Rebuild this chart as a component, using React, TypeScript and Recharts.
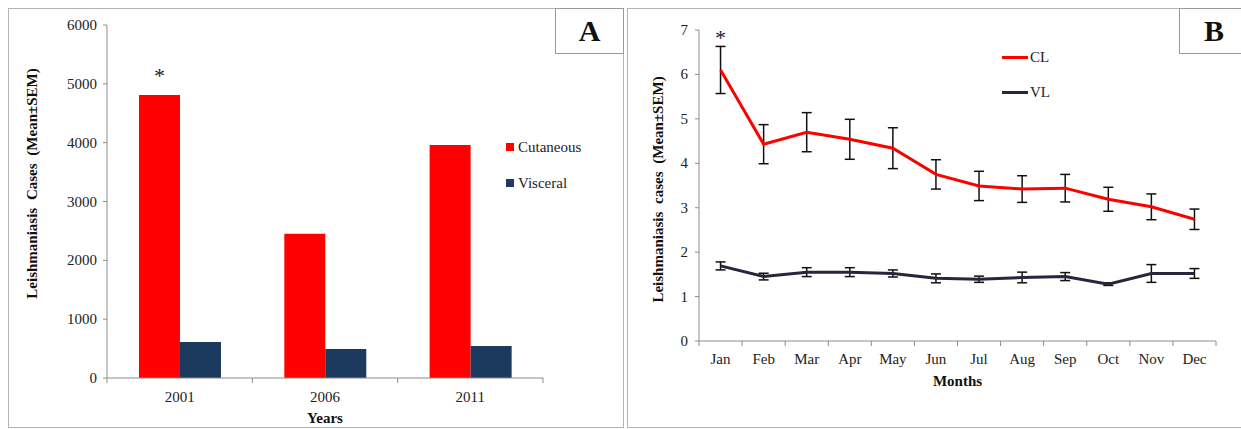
import React from "react";
import {
  BarChart,
  Bar,
  LineChart,
  Line,
  XAxis,
  YAxis,
  ErrorBar,
  LabelList,
  Label,
  Legend,
} from "recharts";

const years = ["2001", "2006", "2011"];
const cutaneous = [4810, 2450, 3960];
const visceral = [612, 493, 544];
const yearMarks = ["*", "", ""];
const countTicks = [0, 1000, 2000, 3000, 4000, 5000, 6000];

const months = ["Jan", "Feb", "Mar", "Apr", "May", "Jun", "Jul", "Aug", "Sep", "Oct", "Nov", "Dec"];
const clMean = [6.1, 4.43, 4.7, 4.54, 4.34, 3.75, 3.49, 3.42, 3.44, 3.19, 3.02, 2.74];
const clSem = [0.53, 0.44, 0.44, 0.45, 0.46, 0.33, 0.33, 0.3, 0.31, 0.27, 0.29, 0.23];
const vlMean = [1.69, 1.45, 1.55, 1.55, 1.52, 1.41, 1.39, 1.43, 1.45, 1.28, 1.52, 1.52];
const vlSem = [0.09, 0.075, 0.1, 0.1, 0.08, 0.1, 0.07, 0.12, 0.09, 0.03, 0.2, 0.11];
const monthMarks = ["*", "", "", "", "", "", "", "", "", "", "", ""];
const rateTicks = [0, 1, 2, 3, 4, 5, 6, 7];

const yearData = years.map((y, i) => ({
  year: y,
  cutaneous: cutaneous[i],
  visceral: visceral[i],
  mark: yearMarks[i],
}));

const monthData = months.map((m, i) => ({
  month: m,
  cl: clMean[i],
  clErr: clSem[i],
  vl: vlMean[i],
  vlErr: vlSem[i],
  mark: monthMarks[i],
}));

const FONT = "'Liberation Serif', 'Times New Roman', serif";
const AXIS = "#8c8c8c";
const RED = "#ff0000";
const NAVY = "#1c3a5e";
const DARK = "#26263d";

// category tick: label at band centre, tick marks on the band edges (Excel style)
const makeEdgeTick = (count: number, labelDy: number) => (props: any) => {
  const { x, y, payload, index } = props;
  const off = payload && payload.offset ? payload.offset : 0;
  return (
    <g>
      <line x1={x - off} y1={y} x2={x - off} y2={y + 5} stroke={AXIS} />
      {index === count - 1 && <line x1={x + off} y1={y} x2={x + off} y2={y + 5} stroke={AXIS} />}
      <text x={x} y={y + labelDy} textAnchor="middle" style={{ fontFamily: FONT, fontSize: 15 }} fill="#222">
        {payload.value}
      </text>
    </g>
  );
};

const yTick = (props: any) => {
  const { x, y, payload } = props;
  return (
    <text x={x} y={y + 5} textAnchor="end" style={{ fontFamily: FONT, fontSize: 15 }} fill="#222">
      {payload.value}
    </text>
  );
};

const starAbove = (lift: number) => (props: any) => {
  const { x, y, width, value } = props;
  if (!value) return null;
  const cx = width ? x + width / 2 : x;
  return (
    <text x={cx} y={y - lift} textAnchor="middle" style={{ fontFamily: FONT, fontSize: 22 }} fill="#222">
      {value}
    </text>
  );
};

const yTitle = (text: string, dx: number, dyShift: number) => (props: any) => {
  const vb = props.viewBox;
  const cx = vb.x + dx;
  const cy = vb.y + vb.height / 2 + dyShift;
  return (
    <text
      x={cx}
      y={cy}
      transform={`rotate(-90, ${cx}, ${cy})`}
      textAnchor="middle"
      dominantBaseline="central"
      style={{ fontFamily: FONT, fontSize: 15, fontWeight: "bold", wordSpacing: 4 }}
      fill="#111"
    >
      {text}
    </text>
  );
};

const barLegend = () => (
  <div style={{ fontFamily: FONT, fontSize: 15, color: "#222" }}>
    {[
      { name: "Cutaneous", color: RED },
      { name: "Visceral", color: NAVY },
    ].map((it) => (
      <div key={it.name} style={{ display: "flex", alignItems: "center", height: 36 }}>
        <span style={{ width: 8, height: 8, background: it.color, marginRight: 4 }} />
        <span>{it.name}</span>
      </div>
    ))}
  </div>
);

const lineLegend = () => (
  <div style={{ fontFamily: FONT, fontSize: 15, color: "#222" }}>
    {[
      { name: "CL", color: RED },
      { name: "VL", color: DARK },
    ].map((it) => (
      <div key={it.name} style={{ display: "flex", alignItems: "center", height: 35 }}>
        <span style={{ width: 26, height: 3, background: it.color, marginRight: 2 }} />
        <span>{it.name}</span>
      </div>
    ))}
  </div>
);

const panelBox: React.CSSProperties = {
  position: "absolute",
  border: "1px solid #b4b4b4",
  boxSizing: "border-box",
};

const letterBox: React.CSSProperties = {
  position: "absolute",
  border: "1px solid #9a9a9a",
  boxSizing: "border-box",
  background: "#fff",
  fontFamily: FONT,
  fontWeight: "bold",
  fontSize: 30,
  display: "flex",
  alignItems: "center",
  justifyContent: "center",
  color: "#111",
};

export default function App() {
  return (
    <div style={{ position: "fixed", left: 0, top: 0, width: 1241, height: 429, background: "#fff", overflow: "hidden", fontFamily: FONT }}>
      <div style={{ ...panelBox, left: 8, top: 8, width: 616, height: 420 }} />
      <div style={{ ...panelBox, left: 627, top: 8, width: 620, height: 420 }} />

      <div style={{ position: "absolute", left: 0, top: 0 }}>
        <BarChart
          width={623}
          height={429}
          data={yearData}
          margin={{ top: 25, right: 80, bottom: 0, left: 0 }}
          barCategoryGap="22%"
          barGap={0}
        >
          <XAxis
            dataKey="year"
            height={51}
            stroke={AXIS}
            tickSize={0}
            tickMargin={0}
            tick={makeEdgeTick(years.length, 24)}
            tickLine={false}
          >
            <Label
              value="Years"
              position="insideBottom"
              offset={6}
              style={{ fontFamily: FONT, fontSize: 15, fontWeight: "bold" }}
              fill="#111"
            />
          </XAxis>
          <YAxis
            width={107}
            domain={[0, 6000]}
            ticks={countTicks}
            stroke={AXIS}
            tickSize={4}
            tickMargin={6}
            tick={yTick}
            label={yTitle("Leishmaniasis Cases (Mean±SEM)", 32, -18)}
          />
          <Legend
            layout="vertical"
            verticalAlign="middle"
            align="center"
            content={barLegend}
            wrapperStyle={{ position: "absolute", left: 506, top: 129, width: 110 }}
          />
          <Bar dataKey="cutaneous" fill={RED} isAnimationActive={false}>
            <LabelList dataKey="mark" content={starAbove(12)} />
          </Bar>
          <Bar dataKey="visceral" fill={NAVY} isAnimationActive={false} />
        </BarChart>
      </div>

      <div style={{ position: "absolute", left: 628, top: 0 }}>
        <LineChart
          width={613}
          height={429}
          data={monthData}
          margin={{ top: 30, right: 25, bottom: 0, left: 0 }}
        >
          <XAxis
            dataKey="month"
            scale="band"
            height={88}
            stroke={AXIS}
            tickSize={0}
            tickMargin={0}
            tick={makeEdgeTick(months.length, 23)}
            tickLine={false}
          >
            <Label
              value="Months"
              position="insideTop"
              offset={34}
              style={{ fontFamily: FONT, fontSize: 15, fontWeight: "bold" }}
              fill="#111"
            />
          </XAxis>
          <YAxis
            width={71}
            domain={[0, 7]}
            ticks={rateTicks}
            stroke={AXIS}
            tickSize={4}
            tickMargin={7}
            tick={yTick}
            label={yTitle("Leishmaniasis cases (Mean±SEM)", 30, 4)}
          />
          <Legend
            layout="vertical"
            verticalAlign="middle"
            align="center"
            content={lineLegend}
            wrapperStyle={{ position: "absolute", left: 374, top: 40, width: 80 }}
          />
          <Line dataKey="cl" stroke={RED} strokeWidth={3} dot={false} isAnimationActive={false}>
            <ErrorBar dataKey="clErr" width={5} stroke="#111" strokeWidth={1.5} direction="y" />
            <LabelList dataKey="mark" content={starAbove(25)} />
          </Line>
          <Line dataKey="vl" stroke={DARK} strokeWidth={3} dot={false} isAnimationActive={false}>
            <ErrorBar dataKey="vlErr" width={5} stroke="#111" strokeWidth={1.5} direction="y" />
          </Line>
        </LineChart>
      </div>

      <div style={{ ...letterBox, left: 555, top: 8, width: 69, height: 46 }}>A</div>
      <div style={{ ...letterBox, left: 1179, top: 8, width: 70, height: 46 }}>B</div>
    </div>
  );
}
